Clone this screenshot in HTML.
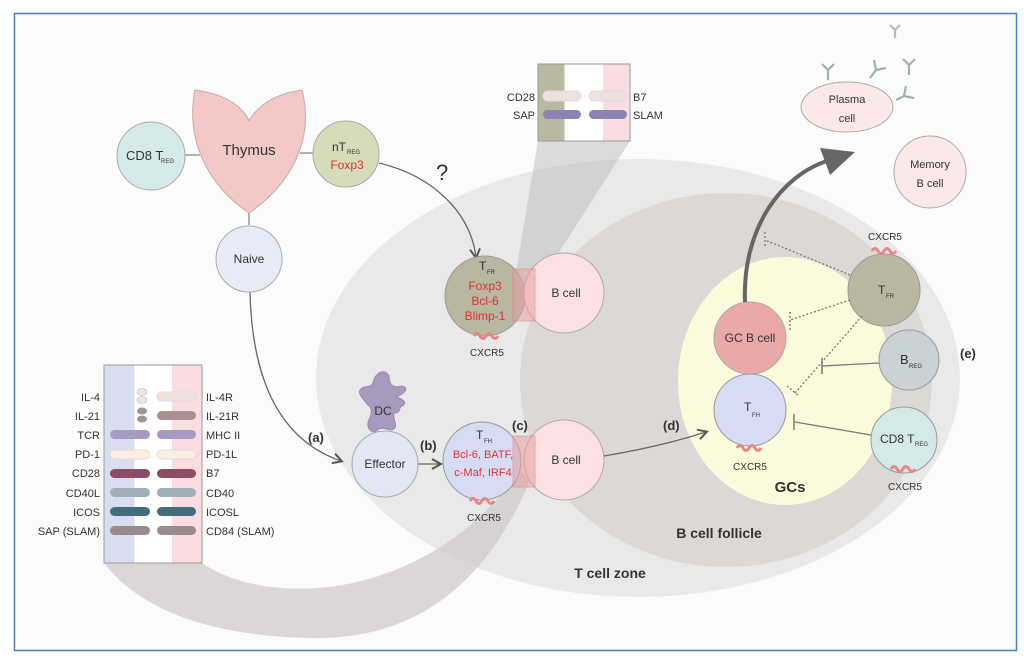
<!DOCTYPE html>
<html><head><meta charset="utf-8"><style>
html,body{margin:0;padding:0;background:#fff}
svg{display:block}
text{font-family:"Liberation Sans",sans-serif;fill:#333}
</style></head><body>
<svg width="1024" height="659" viewBox="0 0 1024 659" xmlns="http://www.w3.org/2000/svg">
<defs>
<marker id="ah" markerWidth="12" markerHeight="12" refX="9" refY="6" orient="auto" markerUnits="userSpaceOnUse"><path d="M1,1 L10,6 L1,11" fill="none" stroke="#555" stroke-width="2"/></marker>
</defs>
<rect x="0" y="0" width="1024" height="659" fill="#fff"/>
<rect x="14.5" y="13.5" width="1002" height="637" fill="#fbfbfb" stroke="#4a7fc6" stroke-width="1.5"/>
<!-- zones -->
<ellipse cx="638" cy="378" rx="322" ry="219" fill="#e9e9e9"/>
<ellipse cx="726" cy="380" rx="206" ry="187" fill="#dcd8d5"/>
<ellipse cx="785" cy="381" rx="107" ry="124" fill="#fbfbdc"/>
<!-- sweeping wedge -->
<path d="M104,563 L202,563 C270,610 430,600 520,470 L530,480 C480,600 400,640 310,638 C210,636 140,610 104,563 Z" fill="#ccc8c6" opacity="0.7"/>
<!-- top zoom wedge -->
<path d="M538,141 L630,141 L535,290 L513,290 Z" fill="#bbb" opacity="0.5"/>
<!-- top box -->
<rect x="538" y="64" width="92" height="77" fill="#fff" stroke="#999"/>
<rect x="538.5" y="64.5" width="26" height="76" fill="#b9b8a2"/>
<rect x="603" y="64.5" width="26.5" height="76" fill="#f9dde0"/>
<rect x="543" y="91" width="38" height="10" rx="5" fill="#eee0df" stroke="#ddd"/>
<rect x="589" y="91" width="38" height="10" rx="5" fill="#eee0df" stroke="#ddd"/>
<rect x="543" y="110" width="38" height="9" rx="4.5" fill="#8c83b2"/>
<rect x="589" y="110" width="38" height="9" rx="4.5" fill="#8c83b2"/>
<text x="535" y="101" font-size="11" text-anchor="end">CD28</text>
<text x="535" y="119" font-size="11" text-anchor="end">SAP</text>
<text x="633" y="101" font-size="11">B7</text>
<text x="633" y="119" font-size="11">SLAM</text>
<!-- left box -->
<rect x="104" y="365" width="98" height="198" fill="#fff" stroke="#999"/>
<rect x="104.5" y="365.5" width="30" height="197" fill="#d7deef"/>
<rect x="172" y="365.5" width="29.5" height="197" fill="#f9dde0"/>
<g font-size="11" text-anchor="end">
<text x="100" y="401">IL-4</text><text x="100" y="420">IL-21</text><text x="100" y="439">TCR</text><text x="100" y="458">PD-1</text><text x="100" y="477">CD28</text><text x="100" y="497">CD40L</text><text x="100" y="516">ICOS</text><text x="100" y="535">SAP (SLAM)</text>
</g>
<g font-size="11">
<text x="206" y="401">IL-4R</text><text x="206" y="420">IL-21R</text><text x="206" y="439">MHC II</text><text x="206" y="458">PD-1L</text><text x="206" y="477">B7</text><text x="206" y="497">CD40</text><text x="206" y="516">ICOSL</text><text x="206" y="535">CD84 (SLAM)</text>
</g>
<ellipse cx="142" cy="392" rx="5" ry="3.5" fill="#f2e4e4" stroke="#bbb" stroke-width=".6"/>
<ellipse cx="142" cy="400" rx="5" ry="3.5" fill="#f2e4e4" stroke="#bbb" stroke-width=".6"/>
<ellipse cx="142" cy="411" rx="5" ry="3.5" fill="#a19390"/>
<ellipse cx="142" cy="419" rx="5" ry="3.5" fill="#a19390"/>
<rect x="157" y="392" width="39" height="9" rx="4.5" fill="#eee0df" stroke="#ddd"/>
<rect x="157" y="411" width="39" height="9" rx="4.5" fill="#a8918f"/>
<g>
<rect x="110" y="430" width="40" height="9" rx="4.5" fill="#a99ac1"/><rect x="157" y="430" width="39" height="9" rx="4.5" fill="#a99ac1"/>
<rect x="110" y="450" width="40" height="9" rx="4.5" fill="#fbeee3" stroke="#e8d8cc"/><rect x="157" y="450" width="39" height="9" rx="4.5" fill="#fbeee3" stroke="#e8d8cc"/>
<rect x="110" y="469" width="40" height="9" rx="4.5" fill="#8d4b64"/><rect x="157" y="469" width="39" height="9" rx="4.5" fill="#8d4b64"/>
<rect x="110" y="488" width="40" height="9" rx="4.5" fill="#9fb0b6"/><rect x="157" y="488" width="39" height="9" rx="4.5" fill="#9fb0b6"/>
<rect x="110" y="507" width="40" height="9" rx="4.5" fill="#446c7c"/><rect x="157" y="507" width="39" height="9" rx="4.5" fill="#446c7c"/>
<rect x="110" y="526" width="40" height="9" rx="4.5" fill="#9a8a8e"/><rect x="157" y="526" width="39" height="9" rx="4.5" fill="#9a8a8e"/>
</g>
<!-- connectors top-left -->
<line x1="185" y1="155" x2="200" y2="155" stroke="#999" stroke-width="1.5"/>
<line x1="300" y1="153" x2="313" y2="153" stroke="#999" stroke-width="1.5"/>
<line x1="249" y1="212" x2="249" y2="225" stroke="#999" stroke-width="1.5"/>
<path d="M250,292 C252,380 280,440 341,461" fill="none" stroke="#666" stroke-width="1.3" marker-end="url(#ah)"/>
<path d="M379,163 C430,175 470,210 476,257" fill="none" stroke="#666" stroke-width="1.3" marker-end="url(#ah)"/>
<text x="436" y="180" font-size="22">?</text>
<!-- thymus -->
<path d="M195,90 C235,95 247,115 249,121 C252,115 265,95 302,90 C315,140 290,185 249,213 C208,185 185,140 195,90 Z" fill="#f5c8c8" stroke="#c8a8a8"/>
<text x="249" y="155" font-size="15" text-anchor="middle">Thymus</text>
<circle cx="151" cy="156" r="34" fill="#d5eae8" stroke="#aaa"/>
<text x="126" y="160" font-size="13">CD8 T</text><text x="161" y="163" font-size="6">REG</text>
<circle cx="346" cy="154" r="33" fill="#d5dcb9" stroke="#aaa"/>
<text x="332" y="151" font-size="12">nT</text><text x="347" y="154" font-size="6">REG</text>
<text x="347" y="169" font-size="12" text-anchor="middle" style="fill:#d33">Foxp3</text>
<circle cx="249" cy="259" r="33" fill="#e8ebf5" stroke="#aaa"/>
<text x="249" y="263" font-size="12" text-anchor="middle">Naive</text>
<!-- DC -->
<path d="M368,405 C362,398 356,392 362,388 C368,385 372,388 373,382 C376,372 385,368 389,376 C389,386 394,388 402,386 C410,388 404,394 396,397 C403,399 408,403 402,406 C398,407 402,413 394,413 C392,420 400,426 392,430 C385,430 382,425 375,432 C368,432 366,424 370,418 C372,412 372,408 368,405 Z" fill="#aa99bf" stroke="#998aae"/>
<text x="383" y="415" font-size="12" text-anchor="middle">DC</text>
<circle cx="385" cy="464" r="33" fill="#e3e6f3" stroke="#aaa"/>
<text x="385" y="468" font-size="12" text-anchor="middle">Effector</text>
<line x1="418" y1="464" x2="440" y2="464" stroke="#666" stroke-width="1.3" marker-end="url(#ah)"/>
<text x="308" y="442" font-size="13" font-weight="bold">(a)</text>
<text x="420" y="450" font-size="13" font-weight="bold">(b)</text>
<text x="512" y="430" font-size="13" font-weight="bold">(c)</text>
<text x="663" y="430" font-size="13" font-weight="bold">(d)</text>
<text x="960" y="358" font-size="13" font-weight="bold">(e)</text>
<!-- TFR middle -->
<circle cx="485" cy="296" r="40" fill="#b9b6a1" stroke="#999"/>
<circle cx="564" cy="293" r="40" fill="#fbe1e3" stroke="#aaa"/>
<rect x="513" y="269" width="22" height="52" fill="#e8a0a0" opacity="0.55" stroke="#e07a7a"/>
<text x="479" y="270" font-size="12">T</text><text x="487" y="274" font-size="6">FR</text>
<g font-size="12" text-anchor="middle"><text x="485" y="290" style="fill:#d33">Foxp3</text><text x="485" y="305" style="fill:#d33">Bcl-6</text><text x="485" y="320" style="fill:#d33">Blimp-1</text></g>
<text x="566" y="297" font-size="12" text-anchor="middle">B cell</text>
<path d="M474,336 q3,-5 6,0 q3,5 6,0 q3,-5 6,0 q3,5 6,0" fill="none" stroke="#e98585" stroke-width="3"/>
<text x="487" y="356" font-size="10" text-anchor="middle">CXCR5</text>
<!-- TFH middle -->
<circle cx="482" cy="461" r="39" fill="#d5dcf3" stroke="#999"/>
<circle cx="564" cy="460" r="40" fill="#fbe1e3" stroke="#aaa"/>
<rect x="513" y="436" width="22" height="51" fill="#e8a0a0" opacity="0.55" stroke="#e07a7a"/>
<text x="476" y="439" font-size="12">T</text><text x="484" y="443" font-size="6">FH</text>
<text x="483" y="458" font-size="11" text-anchor="middle" style="fill:#d33">Bcl-6, BATF,</text>
<text x="483" y="476" font-size="11" text-anchor="middle" style="fill:#d33">c-Maf, IRF4</text>
<text x="566" y="464" font-size="12" text-anchor="middle">B cell</text>
<path d="M470,501 q3,-5 6,0 q3,5 6,0 q3,-5 6,0 q3,5 6,0" fill="none" stroke="#e98585" stroke-width="3"/>
<text x="484" y="521" font-size="10" text-anchor="middle">CXCR5</text>
<path d="M604,456 C640,450 675,442 706,432" fill="none" stroke="#666" stroke-width="1.3" marker-end="url(#ah)"/>
<!-- GC -->
<circle cx="750" cy="338" r="36" fill="#e8a9a8" stroke="#aaa"/>
<text x="750" y="342" font-size="12" text-anchor="middle">GC B cell</text>
<circle cx="750" cy="410" r="36" fill="#d5dcf3" stroke="#999"/>
<text x="744" y="411" font-size="12">T</text><text x="752" y="417" font-size="6">FH</text>
<path d="M737,448 q3,-5 6,0 q3,5 6,0 q3,-5 6,0 q3,5 6,0" fill="none" stroke="#e98585" stroke-width="3"/>
<text x="750" y="470" font-size="10" text-anchor="middle">CXCR5</text>
<text x="790" y="492" font-size="15" font-weight="bold" text-anchor="middle">GCs</text>
<text x="719" y="538" font-size="14" font-weight="bold" text-anchor="middle">B cell follicle</text>
<text x="610" y="578" font-size="14" font-weight="bold" text-anchor="middle">T cell zone</text>
<!-- big arrow -->
<path d="M745,302 C742,230 780,175 830,160" fill="none" stroke="#666" stroke-width="4"/>
<path d="M820,148 L855,152 L830,175 Z" fill="#666"/>
<!-- right cells -->
<circle cx="884" cy="290" r="36" fill="#b9b6a1" stroke="#999"/>
<text x="878" y="294" font-size="12">T</text><text x="886" y="298" font-size="6">FR</text>
<path d="M872,251 q3,-5 6,0 q3,5 6,0 q3,-5 6,0 q3,5 6,0" fill="none" stroke="#e98585" stroke-width="3"/>
<text x="885" y="240" font-size="10" text-anchor="middle">CXCR5</text>
<g stroke="#777" stroke-width="1.3" stroke-dasharray="2,2" fill="none">
<line x1="850" y1="275" x2="765" y2="240"/><line x1="765" y1="232" x2="765" y2="246"/>
<line x1="850" y1="300" x2="790" y2="320"/><line x1="790" y1="312" x2="790" y2="330"/>
<line x1="862" y1="316" x2="795" y2="393"/><line x1="787" y1="386" x2="798" y2="395"/>
</g>
<circle cx="909" cy="360" r="30" fill="#c9d2d5" stroke="#999"/>
<text x="900" y="364" font-size="13">B</text><text x="909" y="368" font-size="6">REG</text>
<line x1="879" y1="363" x2="822" y2="366" stroke="#777" stroke-width="1.3"/><line x1="822" y1="358" x2="822" y2="374" stroke="#777" stroke-width="1.5"/>
<circle cx="904" cy="440" r="33" fill="#d5eae8" stroke="#999"/>
<text x="880" y="443" font-size="12">CD8 T</text><text x="915" y="446" font-size="6">REG</text>
<line x1="871" y1="435" x2="795" y2="422" stroke="#777" stroke-width="1.3"/><line x1="794" y1="414" x2="794" y2="430" stroke="#777" stroke-width="1.5"/>
<path d="M891,469 q3,-5 6,0 q3,5 6,0 q3,-5 6,0 q3,5 6,0" fill="none" stroke="#e98585" stroke-width="3"/>
<text x="905" y="490" font-size="10" text-anchor="middle">CXCR5</text>
<!-- plasma & memory -->
<ellipse cx="847" cy="107" rx="46" ry="25" fill="#fbe9e9" stroke="#aaa"/>
<text x="847" y="103" font-size="11" text-anchor="middle">Plasma</text><text x="847" y="122" font-size="11" text-anchor="middle">cell</text>
<circle cx="930" cy="172" r="36" fill="#fbe9e9" stroke="#aaa"/>
<text x="930" y="168" font-size="11" text-anchor="middle">Memory</text><text x="930" y="187" font-size="11" text-anchor="middle">B cell</text>
<g stroke="#9bb5a9" stroke-width="2.2" fill="none">
<path d="M828,80 v-10 l-6,-6 M828,70 l6,-6"/>
<path d="M870,78 l6,-8 l-2,-10 M876,70 l10,-2"/>
<path d="M909,75 v-10 l-6,-6 M909,65 l6,-6"/>
<path d="M896,100 l8,-4 l10,2 M904,96 l2,-10"/>
<path d="M895,38 v-8 l-5,-5 M895,30 l5,-5" stroke="#bbb"/>
</g>
</svg>
</body></html>
